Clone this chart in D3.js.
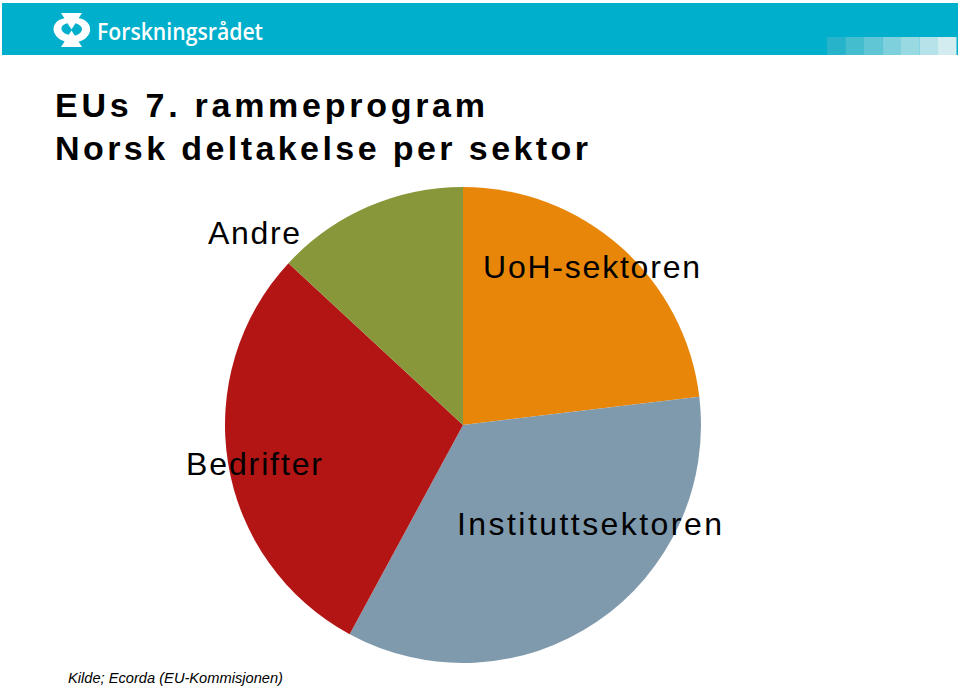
<!DOCTYPE html>
<html>
<head>
<meta charset="utf-8">
<script src="https://cdn.jsdelivr.net/npm/d3@7"></script>
<style>
  body { margin: 0; background: #fff; }
  svg { display: block; }
</style>
</head>
<body>
<script>
// sector shares (percent)
var sectors = ["UoH-sektoren", "Instituttsektoren", "Bedrifter", "Andre"];
var shares = [23.1, 34.8, 29.0, 13.1];
var colors = ["#E8860A", "#7F9AAC", "#B31515", "#88973A"];

var titleLines = ["EUs 7. rammeprogram", "Norsk deltakelse per sektor"];
var source = "Kilde; Ecorda (EU-Kommisjonen)";

// label anchors (left x, baseline y) and fitted widths
var labelLayout = [
    {x: 483, y: 278, w: 217},
    {x: 457, y: 535, w: 265},
    {x: 186, y: 475, w: 136},
    {x: 208, y: 244, w: 92}
];

setChart();

function setChart(){
    var width = 960,
        height = 687;

    var svg = d3.select("body")
        .append("svg")
        .attr("width", width)
        .attr("height", height);

    //header band
    svg.append("rect")
        .attr("x", 2).attr("y", 3)
        .attr("width", width - 4).attr("height", 52)
        .attr("fill", "#00AFCB");

    //fading squares in header corner
    var sq = [0, 1, 2, 3, 4, 5, 6];
    var sqColor = d3.scaleLinear().domain([0, 6]).range(["#27B3C9", "#D2ECEF"]);
    svg.selectAll(".sq")
        .data(sq)
        .enter()
        .append("rect")
        .attr("x", function(d){ return 827 + d * 18.5; })
        .attr("y", 37)
        .attr("width", 18.5)
        .attr("height", 18)
        .attr("fill", function(d){ return sqColor(d); });

    //logo mark
    var logo = svg.append("g").attr("fill", "#fff");
    logo.append("path").attr("d", "M61,13 L82,13 L71.5,29.5 Z");
    logo.append("path").attr("d", "M61,47 L82,47 L71.5,30.5 Z");
    logo.append("path").attr("d", "M66,18 C56,19 52,26 54,32 C56,38 62,41 67,42 L70,35 C64,34 61,31 61.5,28 C62,25 65,24 68,23 Z");
    logo.append("path").attr("d", "M77,18 C87,19 91,25 90,31 C89,37 83,41 77,42 L73,36 C79,35 82,32 82,29 C82,26 78,24 75,23 Z");

    svg.append("text")
        .attr("x", 97).attr("y", 40)
        .attr("fill", "#fff")
        .attr("font-family", "'Open Sans', sans-serif")
        .attr("font-weight", 600)
        .attr("font-size", 23)
        .attr("textLength", 166)
        .attr("lengthAdjust", "spacingAndGlyphs")
        .text("Forskningsrådet");

    //title
    var titleWidths = [430, 533];
    svg.selectAll(".title")
        .data(titleLines)
        .enter()
        .append("text")
        .attr("class", "title")
        .attr("x", 55)
        .attr("y", function(d, i){ return 117 + i * 43; })
        .attr("font-family", "'Liberation Sans', Arial, sans-serif")
        .attr("font-weight", "bold")
        .attr("font-size", 34)
        .attr("textLength", function(d, i){ return titleWidths[i]; })
        .attr("lengthAdjust", "spacing")
        .text(function(d){ return d; });

    //pie
    var pie = d3.pie().sort(null).value(function(d){ return d; });
    var arc = d3.arc().innerRadius(0).outerRadius(238);

    var g = svg.append("g").attr("transform", "translate(463,425)");
    g.selectAll(".slice")
        .data(pie(shares))
        .enter()
        .append("path")
        .attr("class", "slice")
        .attr("d", arc)
        .attr("fill", function(d, i){ return colors[i]; });

    //sector labels
    svg.selectAll(".label")
        .data(sectors)
        .enter()
        .append("text")
        .attr("class", "label")
        .attr("x", function(d, i){ return labelLayout[i].x; })
        .attr("y", function(d, i){ return labelLayout[i].y; })
        .attr("font-family", "'Liberation Sans', Arial, sans-serif")
        .attr("font-size", 32)
        .attr("textLength", function(d, i){ return labelLayout[i].w; })
        .attr("lengthAdjust", "spacing")
        .attr("fill", "#000")
        .text(function(d){ return d; });

    //source
    svg.append("text")
        .attr("x", 68).attr("y", 683)
        .attr("font-family", "'Liberation Sans', Arial, sans-serif")
        .attr("font-style", "italic")
        .attr("font-size", 15)
        .attr("textLength", 215)
        .attr("lengthAdjust", "spacingAndGlyphs")
        .text(source);
}
</script>
</body>
</html>
